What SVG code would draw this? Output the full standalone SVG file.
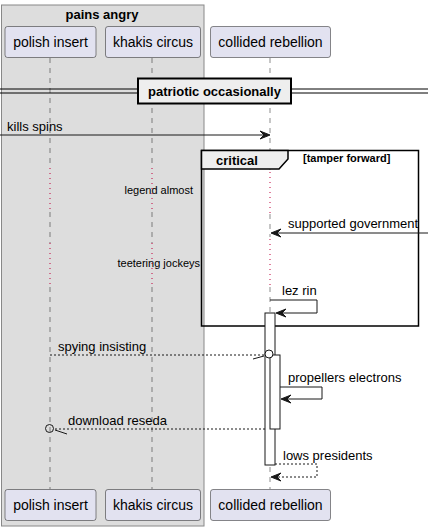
<svg xmlns="http://www.w3.org/2000/svg" width="434" height="531" viewBox="0 0 434 531">
<style>
text{font-family:"Liberation Sans",Arial,sans-serif;fill:#000}
.p{fill:#E2E2F0;stroke:#181818;stroke-width:0.5}
.pt{font-size:14px}
.m{font-size:13px}
.life{stroke:#181818;stroke-width:0.5;stroke-dasharray:5,5}
.delay{stroke:#C0003C;stroke-width:1;stroke-dasharray:1,4}
.msg{stroke:#181818;stroke-width:1;fill:none}
.dash{stroke-dasharray:2,2}
.act{fill:#FFFFFF;stroke:#181818;stroke-width:1}
.ah{fill:#181818;stroke:#181818;stroke-width:1}
</style>
<rect x="1.5" y="5" width="202.5" height="521" fill="#DDDDDD" stroke="#888888" stroke-width="1"/>
<text x="102" y="19" text-anchor="middle" font-size="13" font-weight="bold">pains angry</text>

<g id="lifelines">
<line class="life" x1="50" y1="58" x2="50" y2="168"/>
<line class="life" x1="50" y1="212" x2="50" y2="243"/>
<line class="life" x1="50" y1="287" x2="50" y2="489"/>
<line class="life" x1="152" y1="58" x2="152" y2="168"/>
<line class="life" x1="152" y1="212" x2="152" y2="243"/>
<line class="life" x1="152" y1="287" x2="152" y2="489"/>
<line class="life" x1="270" y1="58" x2="270" y2="170"/>
<line class="life" x1="270" y1="214" x2="270" y2="237"/>
<line class="life" x1="270" y1="287" x2="270" y2="489"/>
<line class="delay" x1="50" y1="168" x2="50" y2="212"/>
<line class="delay" x1="152" y1="168" x2="152" y2="212"/>
<line class="delay" x1="270" y1="172" x2="270" y2="214"/>
<line class="delay" x1="50" y1="243" x2="50" y2="287"/>
<line class="delay" x1="152" y1="243" x2="152" y2="287"/>
<line class="delay" x1="270" y1="239" x2="270" y2="287"/>
</g>

<g id="participant-polish-insert">
<rect class="p" x="5" y="26.5" width="91" height="31" rx="2.5"/>
<text class="pt" x="50.5" y="47" text-anchor="middle">polish insert</text>
<rect class="p" x="5" y="489.5" width="91" height="31" rx="2.5"/>
<text class="pt" x="50.5" y="510" text-anchor="middle">polish insert</text>
</g>
<g id="participant-khakis-circus">
<rect class="p" x="105.5" y="26.5" width="95" height="31" rx="2.5"/>
<text class="pt" x="153" y="47" text-anchor="middle">khakis circus</text>
<rect class="p" x="105.5" y="489.5" width="95" height="31" rx="2.5"/>
<text class="pt" x="153" y="510" text-anchor="middle">khakis circus</text>
</g>
<g id="participant-collided-rebellion">
<rect class="p" x="210.5" y="26.5" width="120" height="31" rx="2.5"/>
<text class="pt" x="270.5" y="47" text-anchor="middle">collided rebellion</text>
<rect class="p" x="210.5" y="489.5" width="120" height="31" rx="2.5"/>
<text class="pt" x="270.5" y="510" text-anchor="middle">collided rebellion</text>
</g>

<g id="divider">
<line x1="0" y1="89" x2="428" y2="89" stroke="#000" stroke-width="1"/>
<line x1="0" y1="93" x2="428" y2="93" stroke="#000" stroke-width="1"/>
<rect x="138" y="78.5" width="153" height="25" fill="#EEEEEE" stroke="#000" stroke-width="2"/>
<text x="214.5" y="96" text-anchor="middle" font-size="13" font-weight="bold">patriotic occasionally</text>
</g>

<g id="frame-critical">
<rect x="201.5" y="150.5" width="217" height="175.5" fill="none" stroke="#000" stroke-width="1.5"/>
<path d="M201.5,150.5 L288,150.5 L288,159 L279,169 L201.5,169 Z" fill="#EEEEEE" stroke="#000" stroke-width="1.5"/>
<text x="216" y="165" font-size="13" font-weight="bold">critical</text>
<text x="303" y="162" font-size="11" font-weight="bold">[tamper forward]</text>
</g>

<g id="delay-texts">
<text x="193" y="194" font-size="11" text-anchor="end">legend almost</text>
<text x="200" y="267" font-size="11" text-anchor="end">teetering jockeys</text>
</g>

<g id="activations">
<rect class="act" x="265" y="313" width="10" height="152"/>
<rect class="act" x="270" y="355" width="10" height="74"/>
</g>

<g id="connectors">
<line class="msg" x1="0" y1="135" x2="268" y2="135"/>
<polygon class="ah" points="270,135 260,131 264,135 260,139"/>
<text class="m" x="7" y="131">kills spins</text>

<line class="msg" x1="428" y1="233" x2="272" y2="233"/>
<polygon class="ah" points="271,233 281,229 277,233 281,237"/>
<text class="m" x="288" y="228">supported government</text>

<polyline class="msg" points="270,300 317,300 317,313 277,313"/>
<polygon class="ah" points="276,313 286,309 282,313 286,317"/>
<text class="m" x="282" y="295">lez rin</text>

<line class="msg dash" x1="50" y1="355" x2="265" y2="355"/>
<circle cx="269" cy="354" r="4" fill="#fff" stroke="#181818" stroke-width="1"/>
<line class="msg" x1="253" y1="359" x2="264" y2="356"/>
<text class="m" x="58" y="351">spying insisting</text>

<polyline class="msg" points="280,387 322,387 322,399 282,399"/>
<polygon class="ah" points="281,399 291,395 287,399 291,403"/>
<text class="m" x="288" y="382">propellers electrons</text>

<line class="msg dash" x1="265" y1="429" x2="54" y2="429"/>
<circle cx="49.5" cy="428.5" r="4" fill="none" stroke="#181818" stroke-width="1"/>
<line class="msg" x1="55" y1="430" x2="67" y2="434"/>
<text class="m" x="68" y="425">download reseda</text>

<polyline class="msg dash" points="275,464 317,464 317,477 273,477"/>
<polygon class="ah" points="271,477 281,473 277,477 281,481"/>
<text class="m" x="283" y="460">lows presidents</text>
</g>
</svg>
